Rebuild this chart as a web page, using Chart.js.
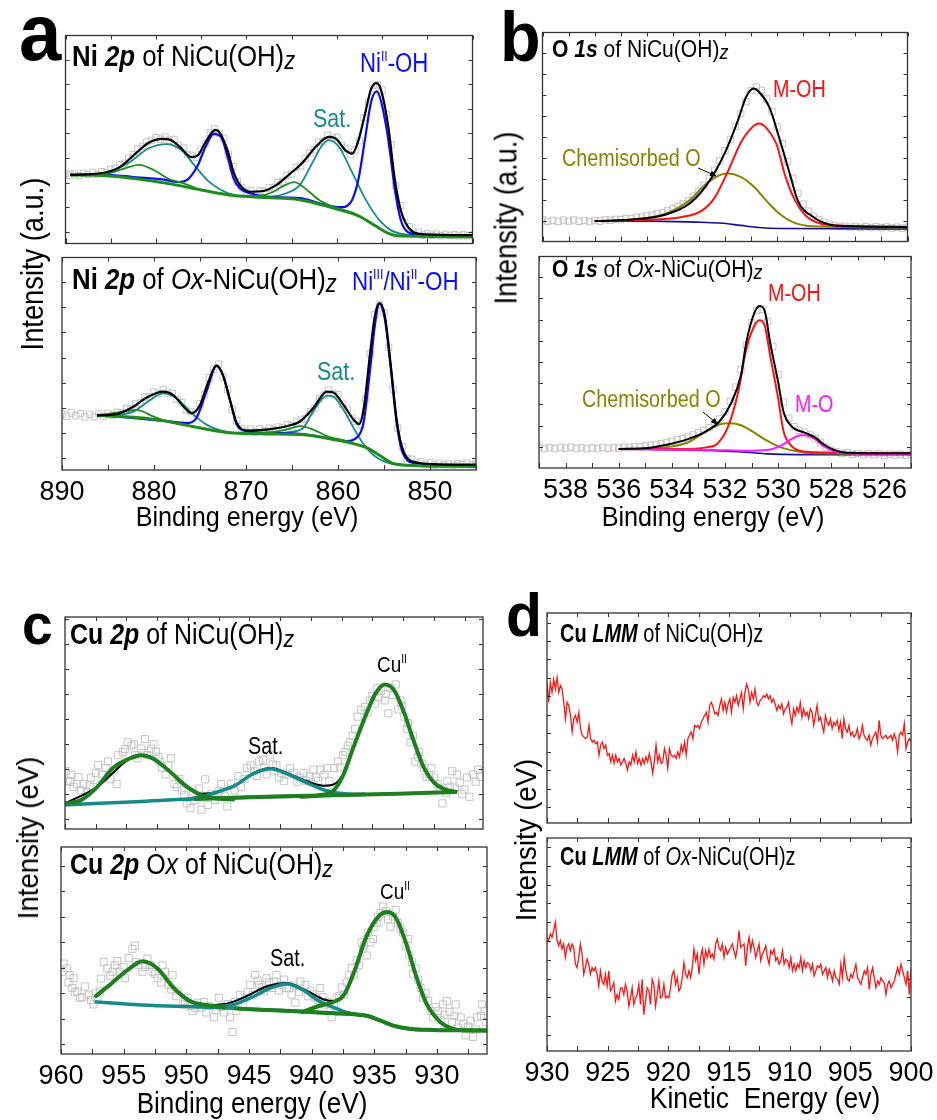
<!DOCTYPE html>
<html>
<head>
<meta charset="utf-8">
<script src="https://cdn.jsdelivr.net/npm/chart.js@4.4.0/dist/chart.umd.min.js"></script>
<style>
  body { margin: 0; background: #fff; }
  #fig { position: relative; width: 937px; height: 1120px; overflow: hidden;
         font-family: "Liberation Sans Narrow", "Liberation Sans", sans-serif; color: #000; }
  canvas { position: absolute; }
  .t { position: absolute; white-space: nowrap; line-height: 1; }
  .t sup { font-size: 55%; vertical-align: 0; position: relative; top: -0.75em; }
  .z { font-style: italic; font-size: 85%; position: relative; top: 0.12em; }
  svg { position: absolute; left: 0; top: 0; }
</style>
</head>
<body>
<div id="fig"></div>
<script>
// ---- tick labels ----
const aTicks = [890, 880, 870, 860, 850];
const bTicks = [538, 536, 534, 532, 530, 528, 526];
const cTicks = [960, 955, 950, 945, 940, 935, 930];
const dTicks = [930, 925, 920, 915, 910, 905, 900];

// ---- (a) Ni 2p of NiCu(OH)z : [eV, intensity] ----
const a1Fit = [[889.5,35.5],[885.9,36.5],[884.1,39.3],[882.2,46.8],[880.8,52.2],[879.3,54.2],[878.3,53.5],[877.2,49.3],[876.1,44.8],[875.4,45.5],[874.6,51.8],[873.8,57.6],[873.4,58.8],[873.0,57.7],[872.1,48.5],[871.4,36.8],[870.7,30.2],[869.6,26.8],[868.1,27.2],[866.7,30.2],[865.2,36.0],[863.8,41.8],[862.3,50.2],[860.9,55.2],[860.1,54.3],[859.1,48.5],[858.3,46.5],[857.6,53.5],[856.9,66.8],[856.2,80.2],[855.6,83.0],[855.1,79.3],[854.3,60.2],[853.6,33.5],[852.9,16.8],[851.8,6.8],[850.4,4.8],[845.0,4.3]];
const a1Blue = [[889.5,35.5],[885.9,35.7],[882.2,34.3],[879.3,33.2],[877.5,31.8],[876.4,33.5],[875.4,40.2],[874.5,50.2],[873.6,56.8],[872.8,55.2],[872.1,45.2],[871.4,33.5],[870.7,28.5],[869.6,26.0],[867.8,24.3],[864.1,23.5],[862.0,21.0],[860.5,19.3],[859.4,18.8],[858.3,22.7],[857.6,33.5],[856.9,53.5],[856.2,73.5],[855.6,78.8],[855.1,73.5],[854.3,53.5],[853.6,28.5],[852.9,11.8],[851.8,5.2],[849.6,4.0],[845.0,3.7]];
const a1Base = [[889.5,35.5],[885.9,35.2],[882.2,33.5],[878.6,31.0],[875.0,27.7],[871.4,24.8],[867.8,23.8],[864.1,22.7],[860.5,18.5],[857.6,14.3],[855.8,9.3],[854.3,5.2],[853.3,4.0],[845.0,3.5]];
const a1Green1 = [[889.5,35.5],[885.9,35.7],[883.7,38.5],[881.9,40.7],[880.1,37.7],[878.6,33.5],[877.2,31.5],[875.0,27.7]];
const a1Green2 = [[870.5,24.6],[868.5,24.8],[867.0,26.8],[866.1,29.3],[864.7,31.8],[863.5,28.5],[862.0,22.7],[860.5,19.3],[859.1,17.2],[858.0,15.5]];
const a1Teal1 = [[885.9,35.5],[883.0,41.8],[880.8,49.3],[878.8,51.5],[877.2,48.5],[875.7,40.2],[874.3,32.7],[872.8,27.7],[871.4,25.2],[869.5,24.3]];
const a1Teal2 = [[867.8,23.8],[865.6,26.0],[864.1,30.2],[862.7,41.8],[861.6,51.0],[860.9,53.5],[859.8,50.2],[858.3,36.8],[856.9,23.5],[855.4,12.7],[854.0,6.8],[852.6,4.8],[849.6,4.0]];
const a1Raw = [36.2,35.4,36.0,35.2,36.3,35.8,36.8,35.9,37.2,36.6,38.4,38.9,40.8,41.5,44.2,46.0,48.9,50.3,52.6,53.4,54.8,54.0,55.1,53.6,53.9,50.8,49.4,46.0,45.6,44.7,48.7,51.8,57.4,59.3,57.1,54.5,46.2,39.8,32.1,29.0,26.7,27.5,25.8,27.4,26.9,28.8,29.0,31.6,32.0,35.3,36.0,39.4,40.2,44.1,46.8,48.6,52.5,53.0,56.0,54.6,55.0,50.8,49.3,46.0,48.4,53.2,65.1,73.2,81.9,82.2,79.4,66.6,51.2,30.0,19.6,10.8,8.7,5.4,5.9,4.3,5.1,4.2,4.9,4.0,4.7,4.1,4.6,3.9,4.5,4.0,4.4];

// ---- (a) Ni 2p of Ox-NiCu(OH)z ----
const a2Fit = [[886.2,27.7],[884.1,28.3],[882.2,32.2],[880.8,36.7],[879.0,39.7],[877.9,38.0],[876.8,32.2],[875.9,28.8],[875.0,33.0],[874.1,44.7],[873.2,53.0],[872.5,48.0],[871.7,34.7],[871.0,23.8],[869.9,20.0],[867.8,20.5],[865.6,22.2],[864.1,24.7],[862.7,31.3],[861.2,39.7],[860.5,39.3],[859.4,33.0],[858.3,25.5],[857.7,23.3],[857.2,31.3],[856.5,59.7],[856.0,78.0],[855.5,84.7],[854.9,78.0],[854.3,54.7],[853.6,24.7],[852.9,9.7],[851.4,3.8],[849.6,3.0],[845.0,2.7]];
const a2Blue = [[886.2,27.7],[882.2,26.3],[878.6,24.7],[876.4,23.8],[875.4,26.3],[874.3,39.7],[873.2,52.7],[872.5,48.0],[871.7,34.7],[871.0,23.0],[869.9,19.7],[867.8,18.8],[864.1,18.3],[861.2,16.3],[859.1,14.7],[858.0,16.3],[857.2,24.7],[856.5,51.3],[856.0,73.0],[855.5,84.3],[854.9,76.3],[854.3,53.0],[853.6,23.0],[852.9,8.0],[851.4,3.3],[845.0,2.2]];
const a2Base = [[886.2,27.7],[882.2,26.7],[878.6,24.7],[875.0,21.3],[871.4,18.7],[867.8,18.3],[864.1,18.0],[860.5,15.5],[856.9,11.3],[855.4,7.2],[854.0,3.3],[851.4,2.2],[845.0,1.8]];
const a2Green1 = [[886.2,27.7],[883.7,29.3],[881.9,30.5],[880.1,27.2],[878.6,24.7],[876.4,22.7]];
const a2Green2 = [[869.2,18.5],[867.0,19.3],[865.6,20.5],[864.1,22.2],[862.7,20.5],[861.2,17.2],[859.8,15.5],[858.3,13.8]];
const a2Teal1 = [[884.1,27.7],[882.2,29.7],[880.4,35.5],[879.0,38.8],[877.5,36.3],[876.1,29.7],[874.3,23.0],[872.1,19.3],[870.7,18.7]];
const a2Teal2 = [[867.0,18.3],[865.2,19.3],[863.8,21.3],[862.7,29.7],[861.2,37.7],[860.5,37.2],[859.4,30.5],[858.3,21.3],[857.2,13.0],[855.8,6.3],[854.0,3.0],[851.4,2.2]];
const a2Raw = [28.3,27.2,28.9,27.5,28.6,26.9,28.2,27.0,28.4,27.3,28.7,27.8,29.3,29.0,31.2,31.0,33.5,34.0,36.9,37.2,39.5,38.8,40.6,39.0,38.9,35.8,34.2,30.4,29.6,28.8,33.6,38.2,46.8,51.0,53.6,47.2,40.8,30.7,25.1,20.8,19.5,20.7,19.3,20.8,19.8,21.2,20.3,21.8,21.4,23.0,22.5,24.4,25.6,26.1,29.6,31.4,36.2,37.9,40.5,38.6,38.2,33.3,30.8,26.2,24.7,22.9,36.0,58.9,78.8,84.0,79.8,62.2,41.0,21.2,11.8,5.9,5.4,3.6,4.1,2.8,3.6,2.5,3.4,2.6,3.3,2.4,3.2,2.7,3.5,2.6,3.1];

// ---- (b) O 1s of NiCu(OH)z ----
const b1Fit = [[537.0,10.5],[536.2,10.8],[534.9,12.2],[534.2,14.2],[533.4,19.2],[532.7,29.2],[532.0,45.8],[531.5,62.5],[531.2,74.2],[530.9,78.8],[530.7,77.2],[530.3,69.2],[529.9,52.5],[529.5,34.2],[529.2,20.8],[528.6,12.5],[528.0,8.8],[527.1,7.8],[525.0,7.5]];
const b1Red = [[537.0,10.5],[534.9,11.2],[533.7,12.5],[532.9,15.8],[532.4,22.5],[531.9,35.8],[531.4,50.8],[531.0,58.3],[530.7,60.8],[530.4,58.3],[530.0,49.2],[529.7,34.2],[529.3,20.8],[528.9,13.3],[528.4,9.5],[527.6,8.2],[525.0,7.5]];
const b1Olive = [[537.0,10.5],[535.6,11.2],[534.3,14.2],[533.4,20.8],[532.7,30.0],[532.2,34.2],[531.9,35.0],[531.4,33.3],[530.9,28.3],[530.4,20.8],[529.9,14.2],[529.4,10.0],[528.6,7.8],[525.0,7.2]];
const b1Navy = [[537.0,10.5],[534.9,10.5],[533.1,10.0],[532.2,9.5],[531.4,8.3],[530.7,7.2],[529.9,6.7],[525.0,6.5]];
const b1Raw = [11.2,10.4,10.9,10.3,11.0,10.5,11.1,10.4,10.9,10.2,10.8,10.5,11.2,10.9,11.4,11.3,11.9,11.8,12.4,12.6,13.2,13.6,14.3,14.9,15.8,16.8,18.0,19.4,21.0,23.4,26.0,29.0,32.6,36.8,41.5,46.8,52.6,59.4,65.8,72.0,77.8,79.6,77.9,73.5,67.0,59.0,50.4,41.2,32.6,24.8,19.2,15.6,13.0,11.2,9.9,8.8,8.2,7.7,7.9,7.4,7.8,7.3,7.7,7.2,7.6,7.1,7.5,7.0,7.4,6.9,7.3];

// ---- (b) O 1s of Ox-NiCu(OH)z ----
const b2Fit = [[536.0,9.7],[534.9,10.2],[534.2,11.8],[533.4,14.7],[532.7,18.8],[532.2,23.8],[531.8,32.2],[531.4,47.2],[531.2,63.8],[530.9,78.8],[530.7,82.5],[530.5,79.7],[530.3,63.8],[530.0,43.8],[529.8,28.8],[529.5,21.3],[529.0,18.0],[528.6,15.5],[528.3,12.2],[527.9,9.2],[527.4,7.8],[525.0,7.5]];
const b2Red = [[536.0,9.7],[533.7,9.7],[532.7,10.5],[532.3,12.2],[531.9,20.5],[531.5,38.8],[531.2,60.5],[530.9,72.2],[530.7,75.2],[530.5,72.2],[530.3,57.2],[530.0,35.5],[529.8,18.8],[529.5,11.3],[529.2,8.8],[528.6,8.0],[525.0,7.5]];
const b2Olive = [[536.0,9.7],[534.3,10.5],[533.4,13.0],[532.7,18.8],[532.2,22.2],[531.8,22.8],[531.4,21.8],[530.9,18.0],[530.4,13.8],[529.9,10.5],[529.3,8.5],[528.6,7.5],[525.0,7.2]];
const b2Magenta = [[536.0,9.7],[533.7,9.3],[532.4,9.2],[531.2,8.8],[530.4,9.2],[529.9,11.3],[529.5,14.7],[529.1,16.8],[528.7,15.5],[528.3,11.3],[527.9,8.5],[527.4,7.5],[525.0,7.2]];
const b2Navy = [[536.0,9.7],[532.4,8.8],[531.2,8.0],[530.4,7.2],[529.3,6.8],[525.0,6.8]];
const b2Raw = [10.6,9.9,10.4,9.8,10.5,10.0,10.6,9.9,10.4,9.8,10.3,9.9,10.5,10.0,10.4,10.1,10.6,10.4,10.9,10.8,11.3,11.5,12.0,12.4,13.0,13.6,14.4,15.0,15.9,16.8,18.0,19.2,20.6,22.4,25.0,28.6,34.0,41.2,50.0,62.5,74.0,80.2,80.8,74.6,62.0,47.5,33.6,25.4,21.0,19.2,18.2,16.8,15.0,12.8,10.6,9.0,8.2,7.4,7.8,6.9,7.4,6.7,7.3,6.6,7.2,6.5,7.1,6.6,7.0,6.4,6.9];

// ---- (c) Cu 2p of NiCu(OH)z ----
const c1Fit = [[960.0,13.3],[957.4,21.7],[954.7,36.7],[953.8,38.3],[952.9,36.7],[951.5,30.0],[949.9,20.8],[948.9,18.3],[947.6,19.2],[946.2,22.5],[944.6,29.2],[943.3,31.7],[942.0,29.2],[940.4,25.0],[939.0,22.5],[938.2,23.0],[937.4,28.3],[936.6,41.7],[935.6,58.3],[934.8,70.0],[934.0,75.0],[933.2,71.7],[932.4,60.0],[931.6,45.0],[930.8,31.7],[930.0,24.2],[929.2,20.8],[928.1,19.2]];
const c1Green1 = [[960.0,13.3],[958.7,15.0],[957.4,21.7],[956.1,31.7],[954.7,36.7],[953.8,38.3],[952.9,36.7],[951.5,30.0],[950.2,22.5],[948.9,17.5],[947.6,15.8],[946.2,15.3]];
const c1Green2 = [[940.9,16.7],[939.3,17.5],[938.2,19.7],[937.4,27.5],[936.6,41.3],[935.6,58.0],[934.8,69.7],[934.0,75.0],[933.2,71.7],[932.4,60.0],[931.6,45.0],[930.8,31.7],[930.0,24.2],[929.2,20.8],[928.1,19.2]];
const c1Teal = [[950.2,15.0],[948.9,16.7],[947.6,19.2],[946.2,22.5],[944.6,29.0],[943.3,31.3],[942.0,28.8],[940.4,24.2],[938.8,20.0],[937.2,18.3],[935.6,18.0]];
const c1TealBase = [[960.0,12.5],[954.2,14.2],[948.9,15.8],[943.6,16.7],[938.2,17.5],[935.6,17.9]];
const c1GreenBase = [[949.5,15.6],[943.6,16.7],[938.2,17.5],[932.9,18.3],[928.1,19.2]];
const c1Raw = [[959.9,30.0],[959.8,25.0],[959.5,28.3],[959.3,21.7],[959.0,23.3],[958.7,20.0],[958.5,23.3],[958.2,19.2],[957.9,26.7],[957.7,21.7],[957.3,33.3],[957.0,28.3],[956.7,31.7],[956.3,25.8],[955.8,23.3],[955.7,38.3],[955.3,40.0],[954.9,45.0],[954.6,43.3],[954.3,38.3],[954.1,36.7],[953.8,41.7],[953.5,46.7],[953.3,38.3],[953.0,41.7],[952.6,40.0],[952.3,35.0],[952.1,31.7],[951.8,28.3],[951.4,36.7],[951.1,23.3],[950.9,21.7],[950.5,20.0],[950.1,13.3],[949.8,10.8],[949.4,15.0],[948.9,10.0],[948.6,25.8],[948.4,12.5],[947.8,15.0],[947.3,23.3],[946.8,11.7],[946.2,20.0],[945.7,21.7],[945.2,31.7],[944.6,30.0],[944.2,35.0],[943.8,31.7],[943.6,28.3],[943.3,38.3],[943.0,30.0],[942.6,26.7],[942.2,25.0],[942.0,28.3],[941.4,29.2],[940.9,26.7],[940.4,25.0],[939.8,30.8],[939.6,26.7],[939.2,30.8],[938.9,28.3],[938.5,25.0],[938.1,31.7],[937.8,35.0],[937.4,38.3],[937.0,43.3],[936.6,48.3],[936.2,58.3],[935.9,61.7],[935.6,63.3],[935.2,66.7],[934.8,65.0],[934.5,68.3],[934.3,71.7],[934.0,66.7],[933.7,60.0],[933.5,73.3],[933.1,75.0],[932.7,66.7],[932.4,58.3],[932.1,55.0],[931.7,48.3],[931.5,35.0],[931.2,40.0],[930.8,31.7],[930.4,28.3],[930.0,26.7],[929.7,23.3],[929.3,13.3],[928.9,25.0],[928.5,30.0],[928.1,28.3],[927.7,18.3],[927.3,26.7],[927.1,16.7],[926.8,28.3],[926.4,30.8],
  [959.6,24.5],[958.9,27.0],[958.0,22.5],[957.5,29.0],[956.5,35.0],[956.0,30.5],[955.1,41.5],[954.4,44.0],[953.6,39.5],[952.8,44.0],[952.4,37.5],[951.6,33.0],[950.7,26.0],[950.3,17.5],[949.6,19.0],[949.1,21.0],[948.1,18.0],[947.5,19.5],[947.0,17.0],[946.5,23.5],[945.9,27.5],[945.4,26.0],[944.9,33.0],[944.4,27.5],[943.9,36.0],[943.1,33.5],[942.8,33.0],[942.4,29.0],[941.7,31.5],[941.1,24.5],[940.6,29.0],[940.1,27.5],[939.4,25.0],[938.7,31.5],[937.6,32.0],[937.2,40.0],[936.8,45.0],[936.4,52.0],[935.4,60.5],[935.0,69.0],[934.6,73.0],[933.9,70.0],[933.3,69.5],[932.9,62.0],[932.6,64.0],[932.2,52.0],[931.9,45.0],[931.3,37.5],[931.0,34.0],[930.6,27.0],[930.2,31.5],[929.5,21.0],[929.0,18.5],[928.7,22.0],[928.3,21.5],[927.9,24.0],[927.5,20.5],[926.6,24.5],[926.2,27.0]];

// ---- (c) Cu 2p Ox of NiCu(OH)z ----
const c2Fit = [[957.3,29.2],[956.1,35.3],[954.7,42.8],[953.5,47.3],[952.3,43.7],[951.0,33.7],[949.7,27.0],[948.4,25.0],[946.8,25.7],[945.2,29.5],[943.6,34.5],[942.0,36.2],[940.4,32.3],[939.0,27.8],[938.2,27.0],[937.4,30.3],[936.6,42.0],[935.6,60.3],[934.5,71.2],[933.9,72.5],[933.2,68.7],[932.4,55.3],[931.6,38.7],[930.8,25.3],[929.7,16.2],[928.7,12.8],[927.6,12.0],[926.0,12.0]];
const c2Green1 = [[957.3,29.2],[956.1,35.3],[954.7,42.8],[953.5,47.3],[952.3,43.7],[951.0,33.7],[949.7,27.0],[948.4,25.0],[946.8,23.7]];
const c2Green2 = [[940.9,21.2],[939.4,24.5],[938.2,26.7],[937.4,30.3],[936.6,42.0],[935.6,60.3],[934.5,71.2],[933.9,72.5],[933.2,68.7],[932.4,55.3],[931.6,38.7],[930.8,25.3],[929.7,16.2],[928.7,12.8],[927.6,12.0],[926.0,12.0]];
const c2Teal = [[948.4,24.0],[946.2,25.3],[944.6,29.5],[943.3,33.7],[942.0,35.8],[940.7,32.8],[939.4,27.0],[938.2,23.7],[937.2,21.2],[935.6,19.5]];
const c2TealBase = [[957.3,26.7],[954.2,25.3],[951.5,24.5],[948.9,24.0],[946.2,23.3],[943.6,22.5],[940.9,21.7],[938.2,20.8],[936.6,20.3],[935.6,19.5],[934.5,17.0],[933.5,14.5],[932.1,12.8],[930.3,12.3]];
const c2GreenBase = [[946.2,23.3],[943.6,22.5],[940.9,21.7],[938.2,20.8],[936.6,20.3],[935.6,19.5],[934.5,17.0],[933.5,14.5],[932.1,12.8],[930.3,12.3],[926.0,12.0]];
const c2Raw = [[959.8,46.2],[959.5,43.7],[959.3,40.3],[959.0,38.7],[959.1,33.7],[958.7,32.0],[958.5,28.7],[958.1,34.5],[957.8,30.3],[957.4,25.3],[957.1,27.8],[956.9,32.0],[956.6,47.0],[956.3,43.7],[955.9,42.0],[955.7,45.3],[955.3,42.0],[954.9,38.7],[954.3,53.7],[954.1,55.3],[953.8,45.3],[953.5,42.0],[953.1,48.7],[952.7,42.0],[952.3,38.7],[951.9,45.3],[951.7,42.0],[951.4,35.3],[951.1,40.3],[950.7,32.0],[950.3,25.3],[949.9,28.7],[949.5,22.0],[949.1,26.2],[948.8,23.7],[948.4,21.2],[947.8,18.7],[947.4,28.7],[947.0,21.2],[946.5,18.7],[946.3,11.2],[946.0,22.0],[945.7,30.3],[945.3,28.7],[944.9,35.3],[944.5,40.3],[944.2,35.3],[943.8,32.0],[943.6,38.7],[943.2,33.7],[942.8,40.3],[942.4,35.3],[942.0,33.7],[941.6,30.3],[941.3,26.2],[940.9,37.0],[940.5,35.3],[940.1,32.0],[939.7,28.7],[939.3,33.7],[938.9,25.3],[938.5,22.0],[938.4,18.7],[938.0,28.7],[937.4,30.3],[937.0,40.3],[936.6,40.3],[936.2,45.3],[935.9,53.7],[935.6,50.3],[935.3,57.0],[935.1,58.7],[934.8,67.0],[934.5,72.0],[934.3,75.3],[933.9,68.7],[933.5,70.3],[933.1,67.0],[932.7,62.0],[932.3,58.7],[932.0,47.0],[931.7,43.7],[931.3,33.7],[931.1,28.7],[930.7,27.0],[930.3,18.7],[929.9,22.0],[929.5,25.3],[929.2,27.0],[928.8,16.2],[928.5,25.3],[928.1,18.7],[927.7,9.5],[927.3,17.0],[927.1,8.7],[926.8,18.7],[926.4,25.3],[926.1,16.2],
  [959.9,42.0],[959.4,36.5],[958.9,31.5],[958.3,29.0],[957.6,27.5],[957.2,31.0],[956.8,38.5],[956.1,40.0],[955.5,47.5],[955.0,44.5],[954.6,49.0],[954.0,47.0],[953.3,44.5],[952.9,45.5],[952.5,41.0],[952.0,36.5],[951.2,33.0],[950.8,29.5],[950.1,27.0],[949.7,24.5],[949.3,23.5],[948.6,26.5],[948.2,24.5],[947.6,22.5],[947.2,24.0],[946.7,25.5],[946.1,26.5],[945.5,25.0],[945.1,31.5],[944.7,30.0],[944.3,37.5],[943.9,34.0],[943.4,36.5],[943.0,37.0],[942.6,32.5],[942.2,38.0],[941.8,33.5],[941.4,35.0],[941.0,31.5],[940.3,29.5],[939.9,30.5],[939.5,27.5],[939.1,29.0],[938.7,26.5],[938.2,24.5],[937.8,29.5],[937.6,34.0],[937.2,36.5],[936.8,44.0],[936.4,48.0],[936.0,57.0],[935.8,55.5],[935.5,62.0],[935.0,65.0],[934.7,70.0],[934.1,73.0],[933.7,65.0],[933.3,73.5],[932.9,64.0],[932.5,55.0],[932.2,50.5],[931.9,41.0],[931.5,38.0],[930.9,31.0],[930.5,22.0],[930.1,24.0],[929.7,17.5],[929.4,20.0],[929.0,21.5],[928.6,19.5],[928.3,13.5],[927.9,15.5],[927.5,14.0],[926.9,12.5],[926.5,19.5],[926.2,22.0]];

// ---- (d) Cu LMM, kinetic energy 930 -> 900 eV, evenly sampled ----
const d1Lmm = [70.8,60.8,70.8,65.8,72.5,67.5,73.3,65.8,69.2,67.5,60.8,52.5,60.8,59.2,54.2,45.8,52.5,54.2,50.8,55.8,47.5,44.2,43.3,42.5,43.3,49.2,42.5,40.8,41.7,40.0,40.8,34.2,39.2,40.8,37.5,39.2,34.2,35.0,30.8,34.2,30.0,34.2,30.8,32.5,29.2,30.8,32.5,30.0,26.7,30.8,29.2,34.2,30.8,35.8,30.0,32.5,29.2,32.5,30.0,33.3,30.8,35.0,30.8,25.0,30.8,39.2,30.8,34.2,30.0,30.8,37.5,34.2,27.5,37.5,34.2,33.3,34.2,32.5,35.8,33.3,39.2,35.8,40.8,34.2,42.5,44.2,45.8,42.5,49.2,48.3,49.2,47.5,50.8,52.5,54.2,55.8,50.8,59.2,60.8,58.3,55.0,55.8,54.2,59.2,62.5,56.7,60.8,55.8,60.0,62.5,55.8,63.3,60.8,64.2,59.2,62.5,65.8,57.5,65.8,70.0,67.5,60.8,65.8,62.5,67.5,60.8,59.2,61.7,62.5,64.2,63.3,65.0,62.5,64.2,60.8,62.5,60.0,56.7,59.2,57.5,60.0,55.0,57.5,58.3,60.8,54.2,50.0,57.5,54.2,58.3,55.8,60.8,53.3,57.5,54.2,55.8,52.5,57.5,55.8,49.2,54.2,59.2,51.7,53.3,49.2,45.8,54.2,50.8,49.2,52.5,47.5,50.8,49.2,51.7,46.7,50.8,42.5,52.5,47.5,45.8,49.2,44.2,45.8,43.3,44.2,47.5,42.5,44.2,49.2,44.2,42.5,41.7,44.2,39.2,42.5,44.2,45.8,40.8,51.7,44.2,42.5,43.3,44.2,42.5,43.3,44.2,41.7,45.0,42.5,35.8,44.2,45.8,44.2,50.0,37.5,40.8,42.5,40.8];
const d2Lmm = [56.3,54.7,58.0,56.3,59.7,63.8,54.7,52.2,54.7,50.5,53.0,46.3,51.3,53.0,49.7,53.0,51.3,43.0,41.3,46.3,53.0,48.0,38.0,41.3,45.5,43.0,38.0,41.3,39.7,41.3,38.0,32.2,39.7,34.7,33.0,38.0,32.2,39.7,29.7,31.3,33.8,24.7,28.0,25.5,31.3,31.3,28.0,33.0,29.7,22.2,26.3,31.3,23.0,26.3,28.0,33.0,23.0,35.5,18.0,24.7,31.3,29.7,23.0,35.5,33.0,22.2,28.0,34.7,26.3,27.2,33.0,26.3,27.2,26.3,31.3,38.0,39.7,33.0,36.3,29.7,31.3,36.3,43.8,38.0,36.3,39.7,36.3,41.3,50.5,44.7,48.0,38.0,46.3,50.5,43.0,49.7,46.3,50.5,46.3,48.0,45.5,53.0,55.5,51.3,49.7,53.0,46.3,51.3,48.0,49.7,51.3,53.0,49.7,46.3,51.3,59.7,51.3,52.2,53.0,42.2,51.3,56.3,49.7,54.7,51.3,46.3,49.7,53.0,44.7,48.0,49.7,52.2,46.3,43.0,49.7,48.0,50.5,44.7,46.3,43.0,44.7,49.7,43.0,45.5,44.7,41.3,46.3,39.7,43.0,39.7,43.0,41.3,46.3,39.7,44.7,41.3,43.8,43.0,39.7,43.0,37.2,39.7,42.2,41.3,43.0,38.0,39.7,41.3,36.3,40.5,38.0,34.7,39.7,36.3,35.5,33.0,43.0,36.3,46.3,39.7,35.5,34.7,38.0,36.3,39.7,43.0,36.3,34.7,33.0,36.3,39.7,38.0,41.3,30.5,38.0,41.3,36.3,31.3,34.7,33.0,36.3,34.7,33.8,28.0,33.0,34.7,31.3,33.0,34.7,38.0,41.3,38.0,43.0,39.7,36.3,33.0,39.7,28.0,41.3];

// ---------------------------------------------------------------
const FONT = '"Liberation Sans Narrow", "Liberation Sans", sans-serif';
Chart.defaults.font.family = FONT;
const fig = document.getElementById('fig');

const pts = arr => arr.map(([x, y]) => ({ x, y }));
// evenly sampled spectra: value i sits at start - i*step
const sampled = (vals, start, end) => vals.map((y, i) => ({ x: start - i * (start - end) / (vals.length - 1), y }));

function line(data, color, width, order) {
  return { data: pts(data), showLine: true, borderColor: color, borderWidth: width,
           pointRadius: 0, cubicInterpolationMode: 'monotone', order };
}
function raw(data, r) {
  return { data, showLine: false, pointStyle: 'rect', pointRadius: r, pointBorderWidth: 1,
           borderColor: '#c4c4c4', backgroundColor: 'rgba(0,0,0,0)', order: 50 };
}

// box frame + inward ticks on all four sides
const framePlugin = {
  id: 'frame',
  afterDatasetsDraw(chart, args, o) {
    const { ctx, chartArea: a, scales: { x, y } } = chart;
    ctx.save();
    ctx.strokeStyle = '#333';
    ctx.lineWidth = 1.3;
    ctx.strokeRect(a.left, a.top, a.right - a.left, a.bottom - a.top);
    ctx.lineWidth = 1;
    ctx.beginPath();
    for (let v = Math.ceil(x.min / o.xStep) * o.xStep; v <= x.max + 1e-6; v += o.xStep) {
      const px = Math.round(x.getPixelForValue(v)) + 0.5;
      ctx.moveTo(px, a.bottom); ctx.lineTo(px, a.bottom - 5);
      ctx.moveTo(px, a.top); ctx.lineTo(px, a.top + 4);
    }
    for (let v = o.yStart; v < y.max; v += o.yStep) {
      const py = Math.round(y.getPixelForValue(v)) + 0.5;
      ctx.moveTo(a.left, py); ctx.lineTo(a.left + 4, py);
      ctx.moveTo(a.right, py); ctx.lineTo(a.right - 4, py);
    }
    ctx.stroke();
    ctx.restore();
  }
};

function plot(box, cfg) {
  const lab = !!cfg.ticks;
  const padL = lab ? 32 : 2, padR = lab ? 32 : 2, padT = 2, padB = lab ? 44 : 2;
  const W = box[2] - box[0] + padL + padR, H = box[3] - box[1] + padT + padB;
  const cv = document.createElement('canvas');
  cv.width = W; cv.height = H;
  cv.style.left = (box[0] - padL) + 'px';
  cv.style.top = (box[1] - padT) + 'px';
  cv.style.width = W + 'px'; cv.style.height = H + 'px';
  fig.appendChild(cv);
  new Chart(cv, {
    type: 'scatter',
    data: { datasets: cfg.datasets },
    options: {
      responsive: false, animation: false, devicePixelRatio: 1,
      layout: { padding: { left: padL, right: padR, top: padT, bottom: lab ? 0 : padB } },
      plugins: { legend: { display: false }, tooltip: { enabled: false }, frame: cfg.frame },
      scales: {
        x: {
          type: 'linear', reverse: true, min: cfg.xMin, max: cfg.xMax, display: lab,
          grid: { display: false, drawTicks: false }, border: { display: false },
          afterBuildTicks: s => { if (lab) s.ticks = cfg.ticks.map(v => ({ value: v })); },
          afterFit: s => { s.height = padB; },
          ticks: { font: { size: 27, family: FONT }, color: '#000', padding: 6, maxRotation: 0, autoSkip: false }
        },
        y: { display: false, min: 0, max: cfg.yMax }
      }
    },
    plugins: [framePlugin]
  });
}

const BLUE = '#0a0aff', TEAL = '#178a8a', GREEN = '#1f8c1f', RED = '#ff1010',
      OLIVE = '#858500', NAVY = '#101090', MAGENTA = '#ff1aff', DKGREEN = '#1d7f1d';

// (a)
plot([62, 32, 476, 247], {
  xMin: 845, xMax: 890, yMax: 107.7, frame: { xStep: 5, yStart: 6, yStep: 12.75 },
  datasets: [line(a1Fit, '#000', 2.2, 1), line(a1Base, GREEN, 3, 2), line(a1Green1, GREEN, 1.8, 3),
             line(a1Green2, GREEN, 1.8, 3), line(a1Blue, BLUE, 2.2, 4), line(a1Teal1, TEAL, 1.8, 5),
             line(a1Teal2, TEAL, 1.8, 5), raw(sampled(a1Raw, 890, 845), 4.5)]
});
plot([62, 254, 476, 470], {
  xMin: 845, xMax: 890, yMax: 107.7, ticks: aTicks, frame: { xStep: 5, yStart: 6, yStep: 12.75 },
  datasets: [line(a2Fit, '#000', 2.2, 1), line(a2Base, GREEN, 3, 2), line(a2Green1, GREEN, 1.8, 3),
             line(a2Green2, GREEN, 1.8, 3), line(a2Blue, BLUE, 2.2, 4), line(a2Teal1, TEAL, 1.8, 5),
             line(a2Teal2, TEAL, 1.8, 5), raw(sampled(a2Raw, 890, 845), 4.5)]
});
// (b)
plot([539, 29, 911, 245], {
  xMin: 525, xMax: 539, yMax: 107.7, frame: { xStep: 1, yStart: 10.8, yStep: 10.8 },
  datasets: [line(b1Fit, '#000', 2, 1), line(b1Red, RED, 2, 2), line(b1Olive, OLIVE, 2, 3),
             line(b1Navy, NAVY, 1.6, 4), raw(sampled(b1Raw, 539, 525), 4.5)]
});
plot([539, 253, 911, 468], {
  xMin: 525, xMax: 539, yMax: 107.7, ticks: bTicks, frame: { xStep: 1, yStart: 10.8, yStep: 10.8 },
  datasets: [line(b2Fit, '#000', 2, 1), line(b2Magenta, MAGENTA, 2, 2), line(b2Red, RED, 2, 3),
             line(b2Olive, OLIVE, 2, 4), line(b2Navy, NAVY, 1.6, 5), raw(sampled(b2Raw, 539, 525), 4.5)]
});
// (c)
plot([61, 613, 487, 833], {
  xMin: 926, xMax: 960, yMax: 110, frame: { xStep: 2.5, yStart: 5, yStep: 13 },
  datasets: [line(c1Green1, DKGREEN, 4, 1), line(c1Green2, DKGREEN, 4, 1), line(c1GreenBase, DKGREEN, 4, 2),
             line(c1Teal, TEAL, 3.5, 3), line(c1TealBase, TEAL, 3.5, 4), line(c1Fit, '#000', 2, 5),
             raw(pts(c1Raw), 5)]
});
plot([61, 843, 487, 1054], {
  xMin: 926, xMax: 960, yMax: 105.7, ticks: cTicks, frame: { xStep: 2.5, yStart: 5, yStep: 13 },
  datasets: [line(c2Green1, DKGREEN, 4, 1), line(c2Green2, DKGREEN, 4, 1), line(c2GreenBase, DKGREEN, 4, 2),
             line(c2Teal, TEAL, 3.5, 3), line(c2TealBase, TEAL, 3.5, 4), line(c2Fit, '#000', 2, 5),
             raw(pts(c2Raw), 5)]
});
// (d)
const lmm = vals => ({ data: sampled(vals, 930, 900), showLine: true, borderColor: '#ff1414',
                       borderWidth: 1.3, pointRadius: 0, tension: 0 });
plot([547, 613, 911, 825], {
  xMin: 900, xMax: 930, yMax: 105.8, frame: { xStep: 2.5, yStart: 8, yStep: 9.3 },
  datasets: [lmm(d1Lmm)]
});
plot([547, 838, 911, 1051], {
  xMin: 900, xMax: 930, yMax: 105.5, ticks: dTicks, frame: { xStep: 2.5, yStart: 8, yStep: 9.3 },
  datasets: [lmm(d2Lmm)]
});

// ---- text (horizontally condensed to mimic the narrow face of the original) ----
const SQ = 0.86;
function txt(html, x, base, size, color, center, sq = SQ) {
  const d = document.createElement('div');
  d.className = 't';
  d.innerHTML = html;
  d.style.fontSize = size + 'px';
  d.style.left = x + 'px';
  d.style.top = (base - 0.86 * size) + 'px';
  if (color) d.style.color = color;
  if (center) {
    d.style.transform = `translateX(-50%) scaleX(${sq})`;
  } else {
    d.style.transformOrigin = '0 0';
    d.style.transform = `scaleX(${sq})`;
  }
  fig.appendChild(d);
}
function vtxt(html, cx, cy, size, sq = SQ) {
  const d = document.createElement('div');
  d.className = 't';
  d.innerHTML = html;
  d.style.fontSize = size + 'px';
  d.style.left = cx + 'px';
  d.style.top = cy + 'px';
  d.style.transform = `translate(-50%,-50%) rotate(-90deg) scaleX(${sq})`;
  fig.appendChild(d);
}

// panel letters
txt('<b>a</b>', 19, 62, 80, null, false, 0.95);
txt('<b>b</b>', 500, 62, 70, null, false, 0.95);
txt('<b>c</b>', 22, 645, 58, null, false, 0.95);
txt('<b>d</b>', 506, 637, 62, null, false, 0.95);

// panel titles
const NICU = 'NiCu(OH)<span class="z">z</span>';
txt('<b>Ni <i>2p</i></b> of ' + NICU, 72, 67, 30);
txt('<b>Ni <i>2p</i></b> of <i>Ox</i>-' + NICU, 72, 290, 30);
txt('<b>O <i>1s</i></b> of ' + NICU, 552, 58, 24.5);
txt('<b>O <i>1s</i></b> of <i>Ox</i>-' + NICU, 552, 278, 24.5);
txt('<b>Cu <i>2p</i></b> of ' + NICU, 70, 645, 29);
txt('<b>Cu <i>2p</i></b> O<i>x</i> of ' + NICU, 70, 875, 29);
txt('<b>Cu <i>LMM</i></b> of NiCu(OH)z', 560, 642, 25, null, false, 0.8);
txt('<b>Cu <i>LMM</i></b> of <i>Ox</i>-NiCu(OH)z', 560, 865, 25, null, false, 0.8);

// peak labels
txt('Ni<sup>II</sup>-OH', 360, 73, 27, BLUE, false, 0.82);
txt('Sat.', 313, 127, 25, TEAL);
txt('Ni<sup>III</sup>/Ni<sup>II</sup>-OH', 352, 290, 26, BLUE);
txt('Sat.', 317, 380, 25, TEAL);
txt('M-OH', 773, 98, 23, RED);
txt('Chemisorbed O', 562, 167, 23, OLIVE);
txt('M-OH', 768, 302, 23, RED);
txt('Chemisorbed O', 582, 408, 23, OLIVE);
txt('M-O', 795, 413, 23, MAGENTA);
txt('Sat.', 248, 755, 23);
txt('Cu<sup>II</sup>', 377, 673, 22);
txt('Sat.', 270, 967, 23);
txt('Cu<sup>II</sup>', 380, 900, 22);

// axis titles
txt('Binding energy (eV)', 247, 527, 28, null, true, 0.9);
txt('Binding energy (eV)', 713, 527, 28, null, true, 0.9);
txt('Binding energy (eV)', 252, 1114, 29, null, true, 0.9);
txt('Kinetic&nbsp; Energy (ev)', 765, 1109, 30, null, true, 0.88);
vtxt('Intensity (a.u.)', 32, 264, 31, 0.88);
vtxt('Intensity (a.u.)', 506, 218, 31, 0.88);
vtxt('Intensity (eV)', 28, 838, 30, 0.92);
vtxt('Intensity (eV)', 526, 840, 30, 0.92);

// pointer arrows for "Chemisorbed O"
fig.insertAdjacentHTML('beforeend',
  '<svg width="937" height="1120"><g stroke="#000" stroke-width="1" fill="#000">' +
  '<line x1="698" y1="168" x2="714" y2="175"/><path d="M716,176 l-6,-0.5 l2,-4 z"/>' +
  '<line x1="703" y1="412" x2="715" y2="422"/><path d="M717,424 l-5.5,-2 l3,-3.5 z"/>' +
  '</g></svg>');
</script>
</body>
</html>
